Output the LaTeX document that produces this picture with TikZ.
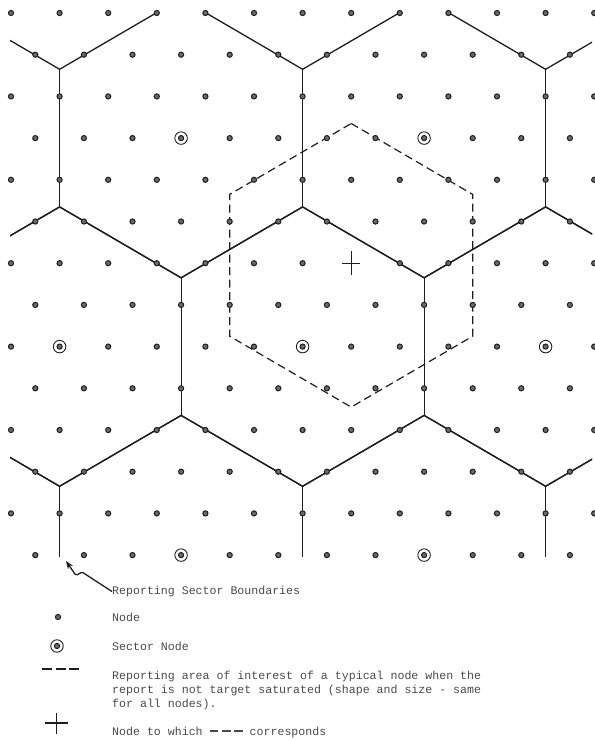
\documentclass[tikz,border=0pt]{standalone}
\usepackage{fontspec}
\setmonofont{Liberation Mono}
\usepackage{xcolor}
\usepackage{tikz}
\usetikzlibrary{positioning,arrows.meta,calc}
\definecolor{inkDark}{HTML}{1E1E1E}
\definecolor{nodeFill}{HTML}{6A6A6A}
\definecolor{typeGray}{HTML}{4A4A4A}
\newcommand{\legdash}{\rule[0.28em]{0.75em}{1.4pt}}

\begin{document}
\begin{tikzpicture}[
  x=1pt, y=-1pt,
  nd/.style={circle, draw=inkDark, fill=nodeFill, line width=1pt, inner sep=0pt, minimum size=5.2pt},
  sectring/.style={circle, draw=inkDark, line width=0.9pt, inner sep=0pt, minimum size=12.5pt},
  bound/.style={draw=inkDark, line width=1.3pt},
  boundv/.style={draw=inkDark, line width=0.8pt},
  reparea/.style={draw=inkDark, line width=1.2pt, dash pattern=on 8pt off 4.5pt},
  plusmark/.style={draw=inkDark, line width=1.2pt},
  legtext/.style={font=\fontsize{11.6}{14}\selectfont\ttfamily, text=typeGray, anchor=base west,
                  inner sep=0pt, align=left},
  pointer/.style={-{Stealth[length=8pt,width=6pt]}, draw=inkDark, line width=1.3pt, rounded corners=1.5pt},
]
\useasboundingbox (0,0) rectangle (595,740);

% ---- Limites de los sectores ----
\begin{scope}
  \clip (10,13) rectangle (592,556);
  \foreach \cx/\cy in {-61.9/138.1, 181.1/138.1, 424.1/138.1, 667.1/138.1,
                       59.6/346.6, 302.6/346.6, 545.6/346.6,
                       -61.9/555.1, 181.1/555.1, 424.1/555.1, 667.1/555.1}{
    \draw[bound] ({\cx-121.5},{\cy-68.8}) -- ({\cx},{\cy-139.7}) -- ({\cx+121.5},{\cy-68.8})
                 ({\cx-121.5},{\cy+68.8}) -- ({\cx},{\cy+139.7}) -- ({\cx+121.5},{\cy+68.8});
    \draw[boundv] ({\cx-121.5},{\cy-68.8}) -- ({\cx-121.5},{\cy+68.8})
                  ({\cx+121.5},{\cy-68.8}) -- ({\cx+121.5},{\cy+68.8});
  }
\end{scope}

% ---- Nodo de referencia y su area ----
\coordinate (xnode) at ({11+48.6*7},{13+41.7*6});
\draw[reparea] ([shift={(0,-139.7)}]xnode) -- ++(121.5,70.9) -- ++(0,141.8) -- ++(-121.5,70.9)
  -- ++(-121.5,-70.9) -- ++(0,-141.8) -- cycle;
\draw[plusmark] ([xshift=-9pt]xnode) -- ([xshift=9pt]xnode)
                ([yshift=-12pt]xnode) -- ([yshift=12pt]xnode);

% ---- Red de nodos ----
\foreach \r in {0,...,13}{
  \pgfmathsetmacro{\rowy}{13+41.7*\r}
  \pgfmathsetmacro{\rowx}{11+24.3*mod(\r,2)}
  \pgfmathtruncatemacro{\last}{12-mod(\r,2)}
  \foreach \i in {0,...,\last}{
    \pgfmathtruncatemacro{\isx}{and(\r==6,\i==7)}
    \ifnum\isx=0
      \node[nd] (n-\r-\i) at ({\rowx+48.6*\i},\rowy) {};
    \fi
  }
}

% ---- Nodos de sector ----
\foreach \r/\i in {3/3,3/8,8/1,8/6,8/11,13/3,13/8}
  \node[sectring] (s-\r-\i) at (n-\r-\i) {};

% ---- Leyenda ----
\node[legtext] (lbound) at (112,594.5) {Reporting Sector Boundaries};
\coordinate (arrtip) at (66,561);
\draw[pointer] (lbound.west) -- (82,572) -- (76,575.5) -- (arrtip);

\node[nd] (lnode) at (58,617) {};
\node[legtext] (lnodet) at (112,621) {Node};

\node[nd] (lsect) at (57,646) {};
\node[sectring] (lsectr) at (lsect) {};
\node[legtext] (lsectt) at (112,650) {Sector Node};

\coordinate (ldashA) at (42,669);
\coordinate (ldashB) at (79,669);
\draw[reparea, line width=1.6pt, dash pattern=on 10pt off 3.5pt] (ldashA) -- (ldashB);
\node[legtext] (lareat) at (112,707)
  {Reporting area of interest of a typical node when the\\
   report is not target saturated (shape and size - same\\
   for all nodes).};

\coordinate (lcross) at (56.5,723);
\draw[plusmark, line width=1.4pt] ([xshift=-11.5pt]lcross) -- ([xshift=11.5pt]lcross)
                                  ([yshift=-10.5pt]lcross) -- ([yshift=10.5pt]lcross);
\node[legtext] (lcrosst) at (112,735)
  {Node to which \legdash\hspace{3.5pt}\legdash\hspace{3.5pt}\legdash{} corresponds};

\end{tikzpicture}
\end{document}
